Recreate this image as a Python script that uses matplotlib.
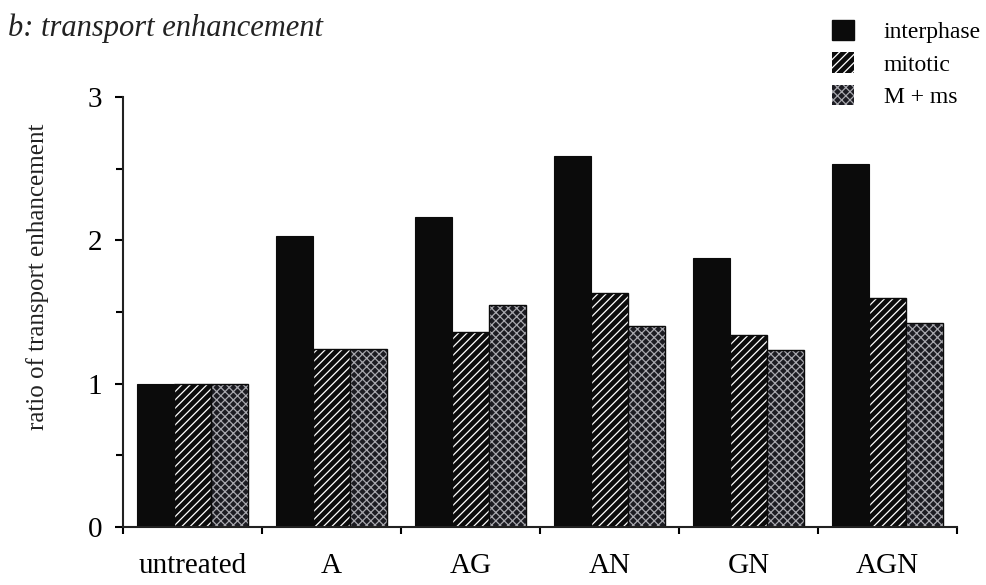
import matplotlib
matplotlib.use("Agg")
import matplotlib.pyplot as plt
from matplotlib.patches import Patch
import numpy as np

# Data
categories = ["untreated", "A", "AG", "AN", "GN", "AGN"]
interphase = [1.0, 2.03, 2.16, 2.59, 1.88, 2.53]
mitotic = [1.0, 1.24, 1.36, 1.63, 1.34, 1.60]
m_ms = [1.0, 1.24, 1.55, 1.40, 1.235, 1.42]
series_names = ["interphase", "mitotic", "M + ms"]
y_ticks = [0, 1, 2, 3]

plt.rcParams["font.family"] = ["Liberation Serif", "DejaVu Serif"]
plt.rcParams["hatch.linewidth"] = 0.9

fig = plt.figure(figsize=(9.86, 5.85), dpi=100)
ax = fig.add_axes([123 / 986, 1 - 527 / 585, 834 / 986, 430 / 585])

x = np.arange(len(categories))
w = 0.267
dark = "#0b0b0b"
grid_face = "#1c1c22"
grid_hatch = "#a8a8ae"

ax.bar(x - w, interphase, w, color=dark, edgecolor=dark, linewidth=0.8)
ax.bar(x, mitotic, w, color=dark, edgecolor="white", hatch="////", linewidth=0)
ax.bar(x, mitotic, w, fill=False, edgecolor=dark, linewidth=1.0)
ax.bar(x + w, m_ms, w, color=grid_face, edgecolor=grid_hatch, hatch="xxxx", linewidth=0)
ax.bar(x + w, m_ms, w, fill=False, edgecolor=dark, linewidth=1.0)

ax.set_xlim(-0.5, len(categories) - 0.5)
ax.set_ylim(0, 3)

for s in ("top", "right"):
    ax.spines[s].set_visible(False)
for s in ("left", "bottom"):
    ax.spines[s].set_linewidth(1.5)
    ax.spines[s].set_color("#222222")

ax.set_yticks(y_ticks)
ax.set_yticklabels([str(t) for t in y_ticks])
ax.set_yticks(np.arange(0.5, 3, 1.0), minor=True)
ax.tick_params(axis="y", which="major", length=6, width=1.5, pad=9, labelsize=21)
ax.tick_params(axis="y", which="minor", length=5, width=1.5)

ax.set_xticks(x)
ax.set_xticklabels(categories)
ax.set_xticks(np.arange(-0.5, len(categories), 1.0), minor=True)
ax.tick_params(axis="x", which="major", length=0, pad=19, labelsize=21)
ax.tick_params(axis="x", which="minor", length=5, width=1.5)

ax.set_ylabel("ratio of transport enhancement", fontsize=18, color="#222222")
ax.yaxis.set_label_coords(-0.089, 0.581)

fig.text(8 / 986, 1 - 36 / 585, "b: transport enhancement", style="italic",
         fontsize=22, va="baseline", ha="left", color="#222222")

handles = [
    Patch(facecolor=dark, edgecolor=dark),
    Patch(facecolor=dark, edgecolor="white", hatch="////", linewidth=0),
    Patch(facecolor=grid_face, edgecolor=grid_hatch, hatch="xxxx", linewidth=0),
]
leg = ax.legend(handles, series_names, loc="upper left",
                bbox_to_anchor=(832 / 986, 1 - 20 / 585), bbox_transform=fig.transFigure,
                frameon=False, fontsize=17, handlelength=0.95, handleheight=0.95,
                handletextpad=1.25, labelspacing=0.38, borderaxespad=0, borderpad=0)

fig.savefig("out.png", dpi=100, facecolor="white")
